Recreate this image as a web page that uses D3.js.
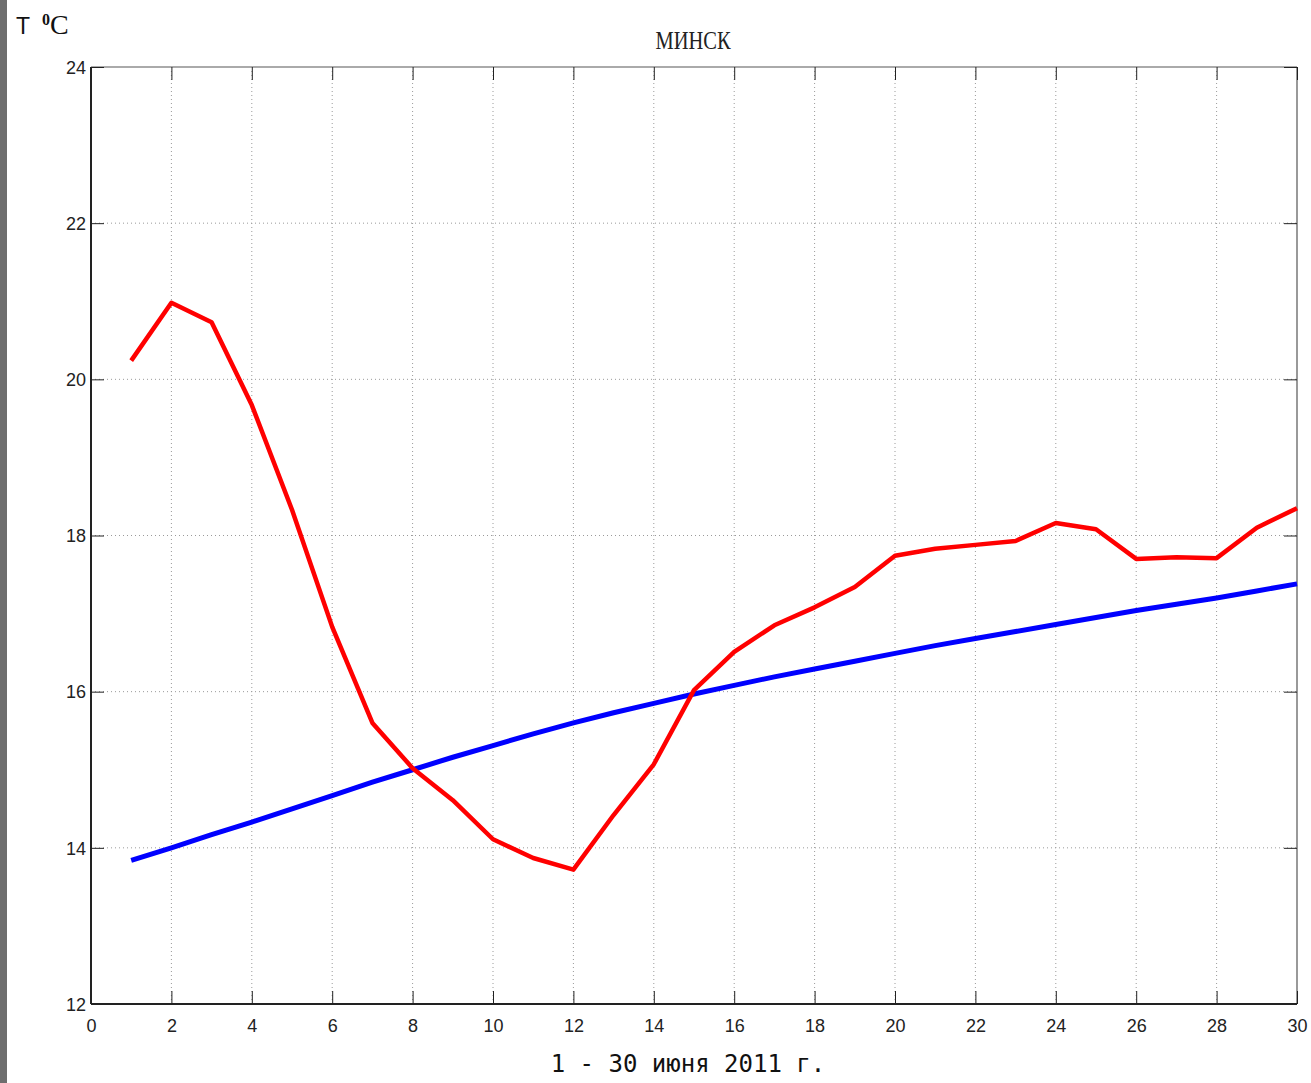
<!DOCTYPE html>
<html>
<head>
<meta charset="utf-8">
<script src="https://cdn.jsdelivr.net/npm/d3@7"></script>
<style>
  body { margin: 0; background: #fff; }
  svg { display: block; }
</style>
</head>
<body>
<div id="chart"></div>
<script>
// Days of June 2011
const days = d3.range(1, 31);

// Observed mean daily temperature, Minsk (red)
const observed = [20.24, 20.98, 20.73, 19.67, 18.33, 16.83, 15.60, 15.02, 14.61, 14.11,
                  13.87, 13.72, 14.42, 15.07, 16.02, 16.51, 16.85, 17.08, 17.34, 17.74,
                  17.83, 17.88, 17.93, 18.16, 18.08, 17.70, 17.72, 17.71, 18.10, 18.35];

// Climate norm (blue)
const norm = [13.84, 14.00, 14.17, 14.33, 14.50, 14.67, 14.84, 15.00, 15.16, 15.31,
              15.46, 15.60, 15.73, 15.85, 15.97, 16.08, 16.19, 16.29, 16.39, 16.49,
              16.59, 16.68, 16.77, 16.86, 16.95, 17.04, 17.12, 17.20, 17.29, 17.38];

const xTicks = d3.range(0, 31, 2);
const yTicks = d3.range(12, 25, 2);

const width = 1311;
const height = 1083;
const margin = { top: 67, right: 14, bottom: 79, left: 91 };

const svg = d3.select("#chart").append("svg")
    .attr("width", width)
    .attr("height", height);

// dark strip at the left edge of the screenshot
svg.append("rect")
    .attr("x", 0).attr("y", 0)
    .attr("width", 7).attr("height", height)
    .attr("fill", "#6e6e6e");

const x = d3.scaleLinear().domain([0, 30]).range([margin.left, width - margin.right]);
const y = d3.scaleLinear().domain([12, 24]).range([height - margin.bottom, margin.top]);

const x0 = x.range()[0], x1 = x.range()[1];
const y0 = y.range()[0], y1 = y.range()[1];

// Grid
const grid = svg.append("g").attr("class", "grid");
grid.selectAll(".vgrid")
    .data(xTicks.filter(d => d > 0 && d < 30))
    .join("line")
    .attr("x1", d => x(d)).attr("x2", d => x(d))
    .attr("y1", y1).attr("y2", y0)
    .attr("stroke", "#9a9a9a")
    .attr("stroke-width", 1)
    .attr("stroke-dasharray", "1,3");

grid.selectAll(".hgrid")
    .data(yTicks.filter(d => d > 12 && d < 24))
    .join("line")
    .attr("x1", x0).attr("x2", x1)
    .attr("y1", d => y(d)).attr("y2", d => y(d))
    .attr("stroke", "#9a9a9a")
    .attr("stroke-width", 1)
    .attr("stroke-dasharray", "1,3");

// Box
svg.append("line").attr("x1", x0).attr("x2", x1).attr("y1", y1).attr("y2", y1)
    .attr("stroke", "#aaa").attr("stroke-width", 2);
svg.append("line").attr("x1", x1).attr("x2", x1).attr("y1", y1).attr("y2", y0)
    .attr("stroke", "#999").attr("stroke-width", 2);
svg.append("line").attr("x1", x0).attr("x2", x1).attr("y1", y0).attr("y2", y0)
    .attr("stroke", "#222").attr("stroke-width", 2);
svg.append("line").attr("x1", x0).attr("x2", x0).attr("y1", y1).attr("y2", y0)
    .attr("stroke", "#222").attr("stroke-width", 2);

// Axes with inward ticks
const tickLen = 13;
const labelFont = "'Liberation Sans', Arial, sans-serif";

svg.append("g")
    .attr("transform", `translate(0,${y0})`)
    .call(d3.axisBottom(x).tickValues(xTicks).tickSizeInner(-tickLen).tickSizeOuter(0))
    .call(g => g.select(".domain").remove())
    .call(g => g.selectAll("line").attr("stroke", "#222"))
    .call(g => g.selectAll("text")
        .attr("y", 12).attr("dy", "0.9em")
        .attr("fill", "#222")
        .style("font-family", labelFont)
        .style("font-size", "18px"));

svg.append("g")
    .attr("transform", `translate(${x0},0)`)
    .call(d3.axisLeft(y).tickValues(yTicks).tickSizeInner(-tickLen).tickSizeOuter(0))
    .call(g => g.select(".domain").remove())
    .call(g => g.selectAll("line").attr("stroke", "#222"))
    .call(g => g.selectAll("text")
        .attr("x", -5).attr("dy", "0.35em")
        .attr("fill", "#222")
        .style("font-family", labelFont)
        .style("font-size", "18px"));

// top and right ticks
svg.append("g")
    .attr("transform", `translate(0,${y1})`)
    .call(d3.axisTop(x).tickValues(xTicks).tickSizeInner(-tickLen).tickSizeOuter(0).tickFormat(""))
    .call(g => g.select(".domain").remove())
    .call(g => g.selectAll("line").attr("stroke", "#222"));

svg.append("g")
    .attr("transform", `translate(${x1},0)`)
    .call(d3.axisRight(y).tickValues(yTicks).tickSizeInner(-tickLen).tickSizeOuter(0).tickFormat(""))
    .call(g => g.select(".domain").remove())
    .call(g => g.selectAll("line").attr("stroke", "#222"));

// Lines
const line = d3.line()
    .x((d, i) => x(days[i]))
    .y(d => y(d));

svg.append("path")
    .datum(norm)
    .attr("fill", "none")
    .attr("stroke", "#0000ff")
    .attr("stroke-width", 5)
    .attr("stroke-linejoin", "round")
    .attr("d", line);

svg.append("path")
    .datum(observed)
    .attr("fill", "none")
    .attr("stroke", "#ff0000")
    .attr("stroke-width", 4.5)
    .attr("stroke-linejoin", "round")
    .attr("d", line);

// Title
svg.append("text")
    .attr("x", 693)
    .attr("y", 49)
    .attr("text-anchor", "middle")
    .style("font-family", "'Liberation Serif', 'Times New Roman', serif")
    .style("font-size", "25px")
    .attr("transform", "translate(693,0) scale(0.82,1) translate(-693,0)")
    .attr("fill", "#222")
    .text("МИНСК");

// Y label
const ylab = svg.append("text")
    .attr("x", 16)
    .attr("y", 34)
    .attr("fill", "#111");
ylab.append("tspan")
    .style("font-family", "'Liberation Sans', Arial, sans-serif")
    .style("font-size", "23px")
    .text("T ");
ylab.append("tspan")
    .attr("dy", -9)
    .attr("dx", 6)
    .style("font-family", "'Liberation Serif', serif")
    .style("font-size", "16px")
    .style("font-weight", "bold")
    .text("0");
ylab.append("tspan")
    .attr("dy", 9)
    .style("font-family", "'Liberation Serif', serif")
    .style("font-size", "28px")
    .text("C");

// X label
svg.append("text")
    .attr("x", 688)
    .attr("y", 1072)
    .attr("text-anchor", "middle")
    .style("font-family", "'DejaVu Sans Mono', 'Liberation Mono', monospace")
    .style("font-size", "24px")
    .attr("fill", "#111")
    .text("1 - 30 июня 2011 г.");
</script>
</body>
</html>
